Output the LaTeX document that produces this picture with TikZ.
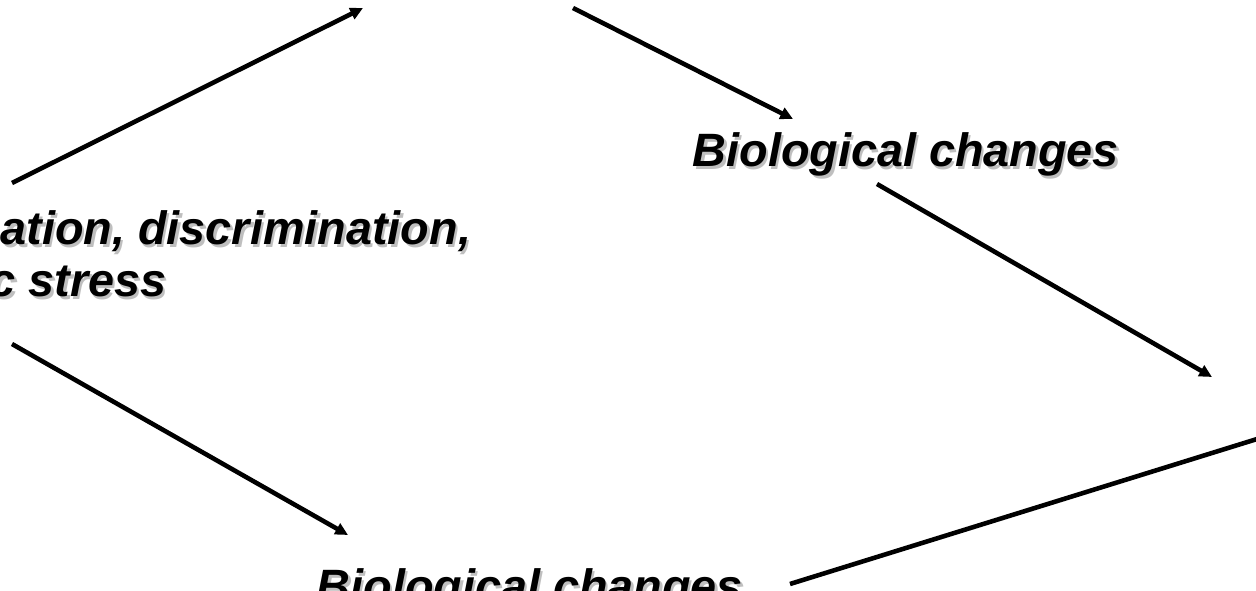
\documentclass[tikz,border=0pt]{standalone}
\usepackage{fontspec}
\setmainfont{Liberation Sans}
\usetikzlibrary{arrows.meta}
\newcommand{\shad}[1]{\makebox[0pt][l]{\hspace{0.7pt}\raisebox{-0.7pt}{\textcolor{black!25}{#1}}}#1}

\begin{document}
\begin{tikzpicture}
[x=0.01cm,y=-0.01cm,
 link/.style={line width=1.3pt,-{Triangle[length=3.6pt,width=3.4pt]}},
 plain/.style={line width=1.3pt},
 lbl/.style={inner sep=0pt,anchor=base west,
   font=\fontsize{13.3}{15}\selectfont\bfseries\itshape}]
\useasboundingbox (0,0) rectangle (1256,591);
\node[lbl] (stressA) at (0,245) {\shad{ation, discrimination,}};
\node[lbl] (stressB) at (-11,297) {\shad{c stress}};
\node[lbl] (bioTop) at (692,167) {\shad{Biological changes}};
\node[lbl] (bioBot) at (316,603) {\shad{Biological changes}};
\coordinate (upOut) at (12,183);
\coordinate (upIn) at (363,8);
\coordinate (topOut) at (573,8);
\coordinate (topIn) at (793,119);
\coordinate (bioOut) at (877,184);
\coordinate (rightIn) at (1212,377);
\coordinate (rightOut) at (1270,435);
\coordinate (botEnd) at (790,584);
\coordinate (downOut) at (12,344);
\coordinate (downIn) at (348,535);
\draw[link] (upOut) -- (upIn);
\draw[link] (topOut) -- (topIn);
\draw[link] (bioOut) -- (rightIn);
\draw[plain] (rightOut) -- (botEnd);
\draw[link] (downOut) -- (downIn);
\end{tikzpicture}
\end{document}
